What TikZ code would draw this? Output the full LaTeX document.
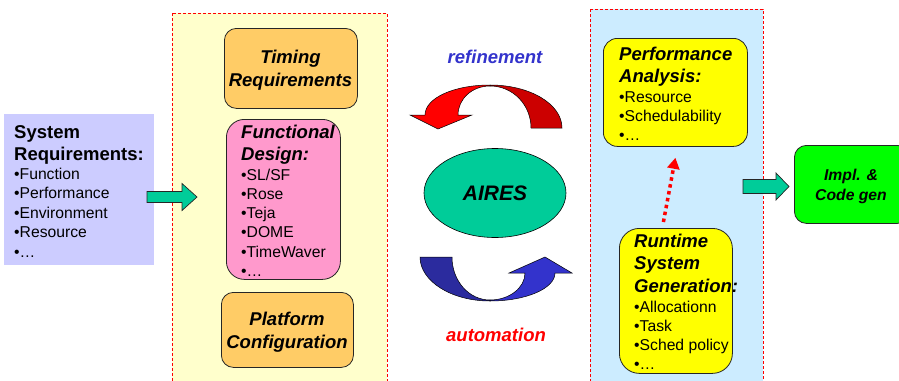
\documentclass[tikz,border=0pt]{standalone}
\usepackage{fontspec}
\setmainfont{Liberation Sans}
\usetikzlibrary{shapes.geometric,arrows.meta}

\definecolor{reqfill}{HTML}{CCCCFF}
\definecolor{paneyellow}{HTML}{FFFFCC}
\definecolor{paneblue}{HTML}{CCECFF}
\definecolor{orangebox}{HTML}{FFCC66}
\definecolor{pinkbox}{HTML}{FF99CC}
\definecolor{yellowbox}{HTML}{FFFF00}
\definecolor{implgreen}{HTML}{00FF00}
\definecolor{airesteal}{HTML}{00CC99}
\definecolor{redlight}{HTML}{FF0000}
\definecolor{reddark}{HTML}{CC0000}
\definecolor{bluedark}{HTML}{2B2B9E}
\definecolor{bluelight}{HTML}{3333CC}

\begin{document}
\begin{tikzpicture}[x=1pt,y=-1pt,
  panel/.style={draw=red, line width=0.7pt, dash pattern=on 3pt off 2pt},
  box/.style={draw=black!85, line width=0.8pt, inner sep=0pt, anchor=north west},
  title/.style={font=\fontsize{18.5pt}{22pt}\selectfont\bfseries\itshape, inner sep=0pt},
  reqtitle/.style={font=\fontsize{18.5pt}{22pt}\selectfont\bfseries, inner sep=0pt, anchor=base west},
  item/.style={font=\fontsize{15.7pt}{19pt}\selectfont, inner sep=0pt, anchor=base west},
  blockarrow/.style={draw=black!85, line width=0.7pt, fill=airesteal},
  bandedge/.style={draw=black, line width=0.5pt},
  dotarrow/.style={draw=red, line width=3.5pt, dash pattern=on 3.5pt off 3.5pt,
    -{Triangle[length=11pt,width=12pt]}}
]
\useasboundingbox (0,0) rectangle (899,380);
\clip (0,0) rectangle (899,380);

% the two dashed panels
\draw[panel, fill=paneyellow] (172,13) rectangle (387,395);
\draw[panel, fill=paneblue] (590,9) rectangle (763,395);

% system requirements
\node[fill=reqfill, inner sep=0pt, anchor=north west, minimum width=150pt, minimum height=151pt] (req) at (4,114) {};
\node[reqtitle] (req-t1) at (14,138) {System};
\node[reqtitle] (req-t2) at (14,160) {Requirements:};
\foreach \t [count=\i] in {Function,Performance,Environment,Resource,\dots}
  \node[item] (req-\i) at (14,{179+19.5*(\i-1)}) {•\t};

% boxes of the left panel
\node[box, fill=orangebox, rounded corners=12pt, minimum width=133pt, minimum height=80pt] (timing) at (224,28) {};
\node[title, anchor=base] (timing-t1) at (290.5,63) {Timing};
\node[title, anchor=base] (timing-t2) at (290.5,86) {Requirements};

\node[box, fill=pinkbox, rounded corners=18pt, minimum width=114pt, minimum height=160pt] (func) at (226,119) {};
\node[title, anchor=base west] (func-t1) at (241,138) {Functional};
\node[title, anchor=base west] (func-t2) at (241,160) {Design:};
\foreach \t [count=\i] in {SL/SF,Rose,Teja,DOME,TimeWaver,\dots}
  \node[item] (func-\i) at (241,{180+19.3*(\i-1)}) {•\t};

\node[box, fill=orangebox, rounded corners=12pt, minimum width=132pt, minimum height=75pt] (plat) at (221,292) {};
\node[title, anchor=base] (plat-t1) at (287,325) {Platform};
\node[title, anchor=base] (plat-t2) at (287,348) {Configuration};

% centre: AIRES with refinement / automation loops
\node[title, anchor=base, text=bluelight] (refine) at (495,63) {refinement};
\node[title, anchor=base, text=red] (autom) at (496,341) {automation};
\node[ellipse, draw=black, line width=0.6pt, fill=airesteal, minimum width=142pt, minimum height=89pt,
  inner sep=0pt, font=\fontsize{21pt}{24pt}\selectfont\bfseries\itshape] (aires) at (495,193) {AIRES};

% refinement loop (upper, pointing left)
\filldraw[bandedge, fill=reddark] (490,85) .. controls (530,85) and (562,104) .. (562,128)
  -- (531,128) .. controls (531,105) and (513,86) .. (490,86) -- cycle;
\filldraw[bandedge, fill=redlight] (490,85) .. controls (454,85) and (425,98) .. (425,115)
  -- (410,115) -- (438,129) -- (472,115) -- (458,115)
  .. controls (458,99) and (472,86) .. (490,86) -- cycle;

% automation loop (lower, pointing right)
\filldraw[bandedge, fill=bluedark] (420,257) -- (452,257) .. controls (452,281) and (469,300) .. (490,300)
  -- (490,301) .. controls (451,301) and (420,281) .. (420,257) -- cycle;
\filldraw[bandedge, fill=bluelight] (490,301) .. controls (526,301) and (555,288.5) .. (555,273)
  -- (572,273) -- (545,257) -- (509,273) -- (525,273)
  .. controls (525,288) and (509,300) .. (490,300) -- cycle;

% boxes of the right panel
\node[box, fill=yellowbox, rounded corners=14pt, minimum width=144pt, minimum height=108pt] (perf) at (603,38) {};
\node[title, anchor=base west] (perf-t1) at (619,60) {Performance};
\node[title, anchor=base west] (perf-t2) at (619,82) {Analysis:};
\foreach \t [count=\i] in {Resource,Schedulability,\dots}
  \node[item] (perf-\i) at (619,{102+19*(\i-1)}) {•\t};

\node[box, fill=yellowbox, rounded corners=20pt, minimum width=113pt, minimum height=145pt] (rt) at (619,228) {};
\node[title, anchor=base west] (rt-t1) at (634,247) {Runtime};
\node[title, anchor=base west] (rt-t2) at (634,269.5) {System};
\node[title, anchor=base west] (rt-t3) at (634,292) {Generation:};
\foreach \t [count=\i] in {Allocationn,Task,Sched policy,\dots}
  \node[item] (rt-\i) at (634,{312+19.3*(\i-1)}) {•\t};

\draw[dotarrow] ([xshift=-12.5pt,yshift=6pt]rt.north) -- ([yshift=-11pt]perf.south);

% implementation
\node[box, fill=implgreen, rounded corners=12pt, minimum width=115pt, minimum height=78pt] (impl) at (794,145) {};
\node[title, anchor=base, font=\fontsize{15.7pt}{19pt}\selectfont\bfseries\itshape] (impl-t1) at (851,180) {Impl. \&};
\node[title, anchor=base, font=\fontsize{15.7pt}{19pt}\selectfont\bfseries\itshape] (impl-t2) at (851,200) {Code gen};

% block arrows into and out of the panels
\draw[blockarrow] (147,191.5) -- (182,191.5) -- (182,183.5) -- (197,197) -- (182,210.5) -- (182,202.5) -- (147,202.5) -- cycle;
\draw[blockarrow] (743,179.5) -- (776,179.5) -- (776,173) -- (789,186.5) -- (776,200) -- (776,193.5) -- (743,193.5) -- cycle;
\end{tikzpicture}
\end{document}
